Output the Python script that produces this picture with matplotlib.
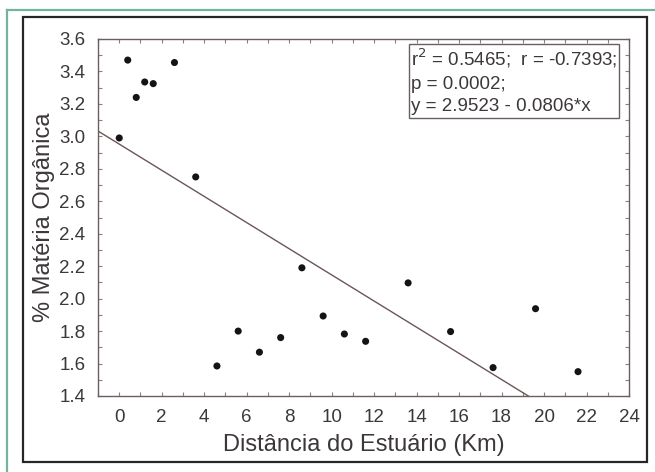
import matplotlib
matplotlib.use("Agg")
import matplotlib.pyplot as plt
from matplotlib.patches import Rectangle
from matplotlib.lines import Line2D
from matplotlib.ticker import MultipleLocator
import numpy as np

plt.rcParams['font.family'] = ['Liberation Sans', 'DejaVu Sans']

# Distance from the estuary (km) and organic matter (%)
distancia = [0.0, 0.4, 0.8, 1.2, 1.6, 2.6, 3.6, 4.6, 5.6, 6.6, 7.6, 8.6,
             9.6, 10.6, 11.6, 13.6, 15.6, 17.6, 19.6, 21.6]
materia_organica = [2.99, 3.47, 3.24, 3.335, 3.325, 3.455, 2.75, 1.585, 1.80,
                    1.67, 1.76, 2.19, 1.893, 1.782, 1.737, 2.097, 1.797,
                    1.575, 1.938, 1.55]

# Linear fit reported in the annotation
intercepto = 2.9523
inclinacao = -0.0806
r2_txt = "0.5465"
r_txt = "-0.7393"
p_txt = "0.0002"

W, H = 655, 472
fig = plt.figure(figsize=(W / 100, H / 100), dpi=100)
fig.patch.set_facecolor('white')

# outer frame: green rule on top/left, dark box around the plot
green = '#72b59c'
fig.add_artist(Line2D([7 / W, 7 / W], [0, 1 - 10 / H], transform=fig.transFigure,
                      color=green, lw=1.6))
fig.add_artist(Line2D([7 / W, 1], [1 - 10 / H, 1 - 10 / H], transform=fig.transFigure,
                      color=green, lw=1.6))
fig.add_artist(Rectangle((23 / W, 1 - 462 / H), (647 - 23) / W, (462 - 17) / H,
                         transform=fig.transFigure, fill=False,
                         edgecolor='#262626', lw=1.6))

ax = fig.add_axes([98 / W, 1 - 396 / H, (629 - 98) / W, (396 - 39) / H])

spine_col = '#6a5e5e'
text_col = '#3d3838'

ax.scatter(distancia, materia_organica, s=26, color='#141414', zorder=3,
           edgecolors='none')

xmin, xmax, ymin, ymax = -1, 24, 1.4, 3.6
xs = np.array([xmin, (intercepto - ymin) / -inclinacao])
ax.plot(xs, intercepto + inclinacao * xs, color='#6b5656', lw=1.0)

ax.set_xlim(xmin, xmax)
ax.set_ylim(ymin, ymax)
ax.xaxis.set_major_locator(MultipleLocator(2))
ax.xaxis.set_minor_locator(MultipleLocator(1))
ax.yaxis.set_major_locator(MultipleLocator(0.2))
ax.yaxis.set_minor_locator(MultipleLocator(0.1))
ax.xaxis.set_major_formatter(plt.FuncFormatter(lambda v, p: f"{v:.0f}"))
ax.yaxis.set_major_formatter(plt.FuncFormatter(lambda v, p: f"{v:.1f}"))

for s in ax.spines.values():
    s.set_color(spine_col)
    s.set_linewidth(1.0)
ax.tick_params(which='both', direction='in', top=True, right=True,
               color='#8a8080', width=0.8, labelcolor=text_col, labelsize=13.5)
ax.tick_params(which='major', length=3, pad=9)
ax.tick_params(which='minor', length=3)

ax.set_xlabel("Distância do Estuário (Km)", fontsize=17, color=text_col, labelpad=6)
ax.set_ylabel("% Matéria Orgânica", fontsize=17, color=text_col, labelpad=3)

txt = (f"r$^2$ = {r2_txt};  r = {r_txt};\n"
       f"p = {p_txt};\n"
       f"y = {intercepto:.4f} - {abs(inclinacao):.4f}*x")
ax.text(0.589, 0.978, txt, transform=ax.transAxes, ha='left', va='top',
        fontsize=13.5, color=text_col, linespacing=1.42,
        bbox=dict(boxstyle='square,pad=0.12', facecolor='white',
                  edgecolor='#6a5e5e', lw=1.0))

fig.savefig("out.png", dpi=100, facecolor='white')
